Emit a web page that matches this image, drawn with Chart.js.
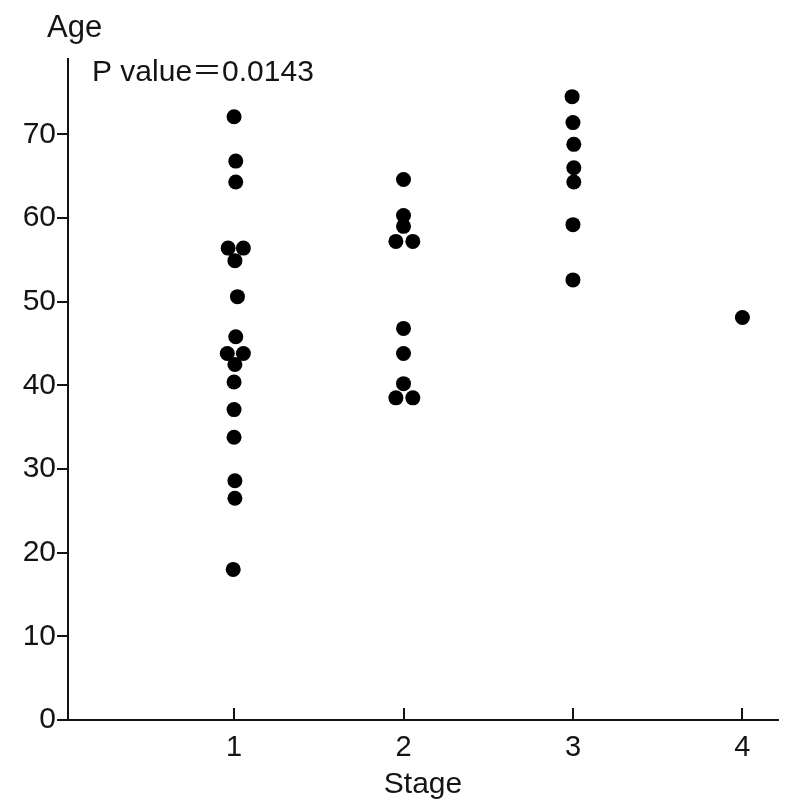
<!DOCTYPE html>
<html>
<head>
<meta charset="utf-8">
<title>Age by Stage</title>
<script src="https://cdn.jsdelivr.net/npm/chart.js@4.4.1/dist/chart.umd.min.js"></script>
<style>
  html, body { margin: 0; padding: 0; background: #ffffff; }
  #wrap { width: 792px; height: 807px; position: relative; }
</style>
</head>
<body>
<div id="wrap"><canvas id="chart" width="792" height="807"></canvas></div>
<script>
// Stage categories shown on the x axis
const stageTicks = [1, 2, 3, 4];
const ageTicks = [0, 10, 20, 30, 40, 50, 60, 70];

// Individual patients: age, and the stage position (small side offsets where dots sit next to each other)
const stage1Age = [72.1, 66.8, 64.3, 56.4, 56.4, 54.9, 50.6, 45.8, 43.8, 43.8, 42.5, 40.4, 37.1, 33.8, 28.6, 26.5, 18.0];
const stage1X   = [1.0, 1.01, 1.01, 0.965, 1.055, 1.005, 1.02, 1.01, 0.96, 1.055, 1.005, 1.0, 1.0, 1.0, 1.005, 1.005, 0.995];

const stage2Age = [64.6, 60.3, 59.0, 57.2, 57.2, 46.8, 43.8, 40.2, 38.5, 38.5];
const stage2X   = [2.0, 2.0, 2.0, 1.955, 2.055, 2.0, 2.0, 2.0, 1.955, 2.055];

const stage3Age = [74.5, 71.4, 68.8, 66.0, 64.3, 59.2, 52.6];
const stage3X   = [2.995, 3.0, 3.005, 3.005, 3.005, 3.0, 3.0];

const stage4Age = [48.1];
const stage4X   = [4.0];

const pValueText = 'P value\uFF1D0.0143';

const FONT = '"Liberation Sans", Arial, "Noto Sans CJK JP", sans-serif';
const INK = '#141414';

function toPoints(xs, ys) {
  return ys.map((y, i) => ({ x: xs[i], y: y }));
}

// Short upward tick marks on the stage axis and the free-standing captions
const annotate = {
  id: 'annotate',
  afterDraw(chart) {
    const ctx = chart.ctx;
    const xs = chart.scales.x;
    const bottom = chart.chartArea.bottom;
    ctx.save();
    ctx.strokeStyle = INK;
    ctx.lineWidth = 2;
    xs.ticks.forEach(t => {
      const px = Math.round(xs.getPixelForValue(t.value));
      ctx.beginPath();
      ctx.moveTo(px, bottom);
      ctx.lineTo(px, bottom - 12);
      ctx.stroke();
    });
    ctx.fillStyle = INK;
    ctx.textAlign = 'left';
    ctx.textBaseline = 'alphabetic';
    ctx.font = '31px ' + FONT;
    ctx.fillText('Age', 47, 37);
    ctx.font = '30px ' + FONT;
    ctx.fillText(pValueText, 92, 81);
    ctx.restore();
  }
};

const allStagesX = [stage1X, stage2X, stage3X, stage4X];
const allStagesY = [stage1Age, stage2Age, stage3Age, stage4Age];

new Chart(document.getElementById('chart'), {
  type: 'scatter',
  data: {
    datasets: allStagesY.map((ys, i) => ({
      label: 'Stage ' + stageTicks[i],
      data: toPoints(allStagesX[i], ys),
      pointRadius: 7.5,
      pointHoverRadius: 7.5,
      pointBackgroundColor: '#000000',
      pointBorderWidth: 0,
      borderWidth: 0
    }))
  },
  options: {
    responsive: false,
    animation: false,
    events: [],
    layout: { padding: { top: 59, right: 14, left: 0, bottom: 0 } },
    plugins: {
      legend: { display: false },
      tooltip: { enabled: false },
      title: { display: false }
    },
    scales: {
      x: {
        type: 'linear',
        min: 0.02,
        max: 4.21,
        afterBuildTicks(scale) {
          scale.ticks = stageTicks.map(v => ({ value: v }));
        },
        afterFit(scale) { scale.height = 87; },
        grid: { display: false, drawTicks: false },
        border: { display: true, color: INK, width: 2 },
        ticks: {
          color: INK,
          font: { family: FONT, size: 29 },
          padding: 11,
          maxRotation: 0,
          callback: v => String(v)
        },
        title: {
          display: true,
          text: 'Stage',
          color: INK,
          font: { family: FONT, size: 30 },
          padding: { top: 0, bottom: 4 }
        }
      },
      y: {
        type: 'linear',
        min: 0,
        max: 79,
        afterBuildTicks(scale) {
          scale.ticks = ageTicks.map(v => ({ value: v }));
        },
        afterFit(scale) { scale.width = 68; },
        grid: {
          display: true,
          drawOnChartArea: false,
          drawTicks: true,
          tickLength: 11,
          color: INK,
          lineWidth: 2
        },
        border: { display: true, color: INK, width: 2 },
        ticks: {
          color: INK,
          font: { family: FONT, size: 30 },
          padding: 1,
          callback: v => String(v)
        }
      }
    }
  },
  plugins: [annotate]
});
</script>
</body>
</html>
